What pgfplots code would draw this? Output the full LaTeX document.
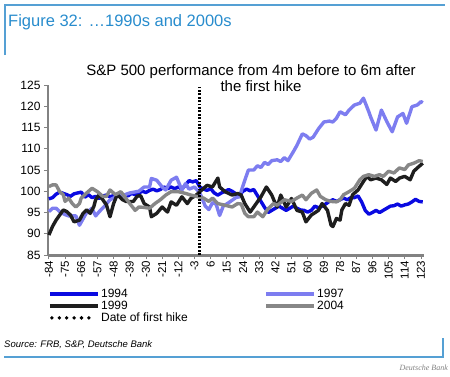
\documentclass[border=0pt]{standalone}
\usepackage{pgfplots}
\pgfplotsset{compat=1.18}
\usepackage{fontspec}
\setmainfont{Liberation Sans}
\newfontfamily\serifdb{Liberation Serif}
\definecolor{dbtitle}{RGB}{40,140,205}
\definecolor{dbline}{RGB}{85,160,212}
\definecolor{c94}{RGB}{10,10,225}
\definecolor{c97}{RGB}{125,125,240}
\definecolor{c99}{RGB}{30,30,30}
\definecolor{c04}{RGB}{135,135,135}
\definecolor{axgray}{RGB}{130,130,130}
\begin{document}
\begin{tikzpicture}
\begin{axis}[
  at={(48pt,121pt)}, anchor=south west,
  scale only axis, width=376pt, height=170pt,
  xmin=-84.5, xmax=124.7, ymin=85, ymax=125,
  axis x line*=bottom, axis y line*=left,
  axis line style={-},
  x axis line style={axgray, line width=3pt},
  y axis line style={axgray, line width=1.5pt},
  xtick={-84,-75,...,123}, ytick={85,90,...,125},
  minor x tick num=2,
  tick align=outside,
  major tick length=4pt, minor tick length=2pt,
  tick style={axgray, line width=0.8pt},
  xticklabel style={rotate=90, anchor=east, font=\fontsize{11.5}{12}\selectfont, inner sep=1.5pt},
  yticklabel style={font=\fontsize{12}{13}\selectfont},
  /pgf/number format/assume math mode=true,
  clip=false,
  legend columns=2,
  legend cell align=left,
  legend style={draw=none, fill=none, at={(axis description cs:0,-0.19)}, anchor=north west,
    inner sep=0pt, row sep=-1pt, font=\fontsize{12}{12}\selectfont,
    nodes={inner sep=1.5pt},
    /tikz/column 2/.style={column sep=75pt}},
  legend image code/.code={\draw[#1] (0pt,0pt) -- (48pt,0pt);},
  every axis plot/.append style={line width=3.4pt, line join=round},
]
\addplot[c94] coordinates {(-84,98.2)(-82,98.5)(-80,99.3)(-78,99.8)(-76,99.5)(-74,99.2)(-72,98.8)(-70,99.4)(-68,99.6)(-66,99.8)(-64,98.6)(-62,99.2)(-60,98.5)(-58,98.8)(-56,98.3)(-54,98.9)(-52,99.1)(-50,98.7)(-48,99)(-46,99.2)(-44,98.8)(-42,99.2)(-40,98.9)(-38,99.5)(-36,99.2)(-34,99.6)(-32,100)(-30,99.7)(-28,100.2)(-26,100.5)(-24,100.1)(-22,100.4)(-20,101)(-18,100.6)(-16,101)(-14,100.6)(-12,101)(-10,100.5)(-8,101.5)(-6,102.5)(-4,102.2)(-2,102.5)(0,101)(2,100.5)(4,100.2)(6,100.6)(8,99.6)(10,99.1)(12,99.6)(14,100)(16,100.4)(18,100)(20,99.4)(22,99.1)(24,100)(26,100.5)(28,100.1)(30,100.4)(32,99)(34,97.6)(36,96.2)(38,95)(40,95.5)(42,96)(44,96.5)(46,96)(48,95.5)(50,96)(52,96.5)(54,96)(56,95.6)(58,95.5)(60,95.1)(62,95.5)(64,96.5)(66,96.1)(68,96.5)(70,97)(72,97.6)(74,98)(76,97.6)(78,98)(80,98.4)(82,98)(84,98.5)(86,98.5)(88,98.9)(90,97.5)(92,95.5)(94,94.6)(96,95)(98,95.5)(100,95)(102,95.5)(104,96)(106,96.5)(108,96.6)(110,97)(112,96.5)(114,96.8)(116,97)(118,97.5)(120,98.1)(122,97.6)(124,97.5)};
\addlegendentry{1994}
\addplot[c97] coordinates {(-84,95.2)(-82,96)(-80,96)(-78,95.2)(-75,94.5)(-73,94.2)(-69,94.2)(-67,92)(-65,93.5)(-63,95)(-60,96)(-58,94.2)(-56,95.2)(-53,96.5)(-50,98)(-46,98.8)(-43,99)(-39,99.6)(-34,100)(-31,101)(-28,101)(-27,103)(-24,102.6)(-21,101)(-19,100.3)(-16,102.6)(-13,103.3)(-10,100.3)(-8,101.8)(-6,100.5)(-3,101)(0,99.6)(3,96.5)(5,95.7)(7,97.3)(9,97)(11,94.3)(13,96.5)(16,97.3)(20,98.5)(22,98.7)(25,102.6)(27,105)(30,105)(32,106)(34,105.6)(36,106.8)(38,106.3)(40,107.2)(43,107.4)(45,107)(47,107.9)(49,107.2)(52,109.3)(54,110.8)(57,113.5)(59,113.1)(61,112.3)(63,112.7)(66,114.7)(69,116.3)(72,116.5)(74,116.3)(76,117.2)(78,118.7)(81,118)(83,119.1)(86,120.3)(89,120.7)(91,121.9)(94,118.7)(95,117.5)(98,114.4)(101,119.1)(104,116.4)(107,114)(110,117.5)(113,118.3)(115,116)(118,119.9)(121,120.3)(123,121.1)(124,120.8)};
\addlegendentry{1997}
\addplot[c99] coordinates {(-84,89.7)(-82,91.7)(-80,93.2)(-78,94.4)(-76,95.6)(-74,95.2)(-72,94.4)(-70,92.8)(-67,93.2)(-65,94.8)(-63,95.6)(-61,94.8)(-59,96.4)(-58,98)(-56,99.2)(-54,98)(-52,96.8)(-50,94)(-48,97.1)(-46,99.2)(-45,98.8)(-43,98)(-41,97.6)(-37,97.6)(-35,98.8)(-33,99)(-31,97.1)(-28,96.3)(-27,94)(-24,94.8)(-21,96.3)(-18,95.1)(-16,97.5)(-13,96.7)(-10,98.7)(-7,97.1)(-5,98.3)(-2,99.1)(1,100.3)(4,101.4)(7,101)(10,103.1)(11,101)(14,99.9)(18,99.1)(21,99.5)(23,99.1)(25,97.1)(28,95.1)(30,96.3)(34,98.7)(37,101)(40,99.1)(42,97.1)(43,96.3)(45,99.1)(48,96.3)(51,98.3)(54,95.5)(57,95.1)(59,92.8)(62,94.4)(66,95.5)(68,97.1)(71,95.5)(73,92)(74,91.7)(76,93.6)(78,93.2)(79,95.6)(81,97.1)(83,96.7)(85,99.2)(88,100.3)(91,102.3)(93,103.5)(95,102.7)(98,103.1)(101,102.7)(104,101.6)(106,103.1)(109,102.3)(111,103.1)(114,103.5)(117,102.7)(119,104.7)(121,105.5)(124,106.6)};
\addlegendentry{1999}
\addplot[c04] coordinates {(-84,101.1)(-82,101.5)(-80,101.5)(-78,99.9)(-76,99.2)(-75,97.6)(-73,98.4)(-71,97.1)(-69,96.3)(-67,97.1)(-66,98.4)(-63,99.6)(-60,100.7)(-57,99.9)(-54,98.8)(-52,98.8)(-50,100.3)(-47,99.2)(-44,99.9)(-42,98.8)(-39,97.1)(-36,95.5)(-34,96.3)(-31,96.2)(-28,96)(-25,97.1)(-22,98)(-19,99.1)(-16,99.9)(-12,99.9)(-8,99.5)(-5,99.1)(-1,98.7)(2,98.4)(5,97.6)(7,98.4)(10,97.1)(14,96.7)(18,96.3)(21,97.1)(23,97)(25,94.8)(27,94)(30,94)(32,95.1)(35,94)(38,95.9)(41,97.1)(43,96.7)(47,98)(51,97.6)(54,98.4)(57,99.1)(59,98)(62,99.5)(65,100.3)(67,98.8)(70,98)(73,97.6)(76,97.5)(78,98)(80,99.2)(83,99.9)(86,100.7)(89,102.7)(91,103.5)(94,103.9)(97,103.5)(100,103.9)(102,103.5)(105,104.7)(108,104.3)(111,105.5)(114,105.1)(116,106.2)(119,106.6)(122,107.2)(124,107)};
\addlegendentry{2004}
\addplot[black, line width=3.2pt, dash pattern=on 1.8pt off 1.6pt,
  legend image code/.code={\draw[black, line width=3.8pt, line cap=round, dash pattern=on 0pt off 7.4pt] (2pt,0pt) -- (46pt,0pt);}]
  coordinates {(0,85)(0,125)};
\addlegendentry{Date of first hike}
\end{axis}
% frame lines and texts
\draw[dbline, line width=1.5pt] (5pt,321pt) -- (5pt,371pt) -- (445pt,371pt);
\draw[dbline, line width=1.5pt] (4pt,19pt) -- (443pt,19pt) -- (443pt,38pt);
\node[anchor=base west, inner sep=0pt, text=dbtitle, font=\fontsize{16.5}{18}\selectfont] at (8pt,350pt) {Figure 32: …1990s and 2000s};
\node[anchor=base, inner sep=0pt, font=\fontsize{15}{16}\selectfont] at (251pt,301pt) {S\&P 500 performance from 4m before to 6m after};
\node[anchor=base, inner sep=0pt, font=\fontsize{15}{16}\selectfont] at (261pt,285pt) {the first hike};
\node[anchor=base west, inner sep=0pt, font=\fontsize{9.5}{11}\selectfont\itshape] at (4pt,29pt) {Source: FRB, S\&P, Deutsche Bank};
\node[anchor=base east, inner sep=0pt, text=gray, font=\fontsize{8}{9}\selectfont\serifdb\itshape] at (448pt,6pt) {Deutsche Bank};
\pgfresetboundingbox
\path[use as bounding box] (0pt,0pt) rectangle (450pt,376pt);
\end{tikzpicture}
\end{document}
